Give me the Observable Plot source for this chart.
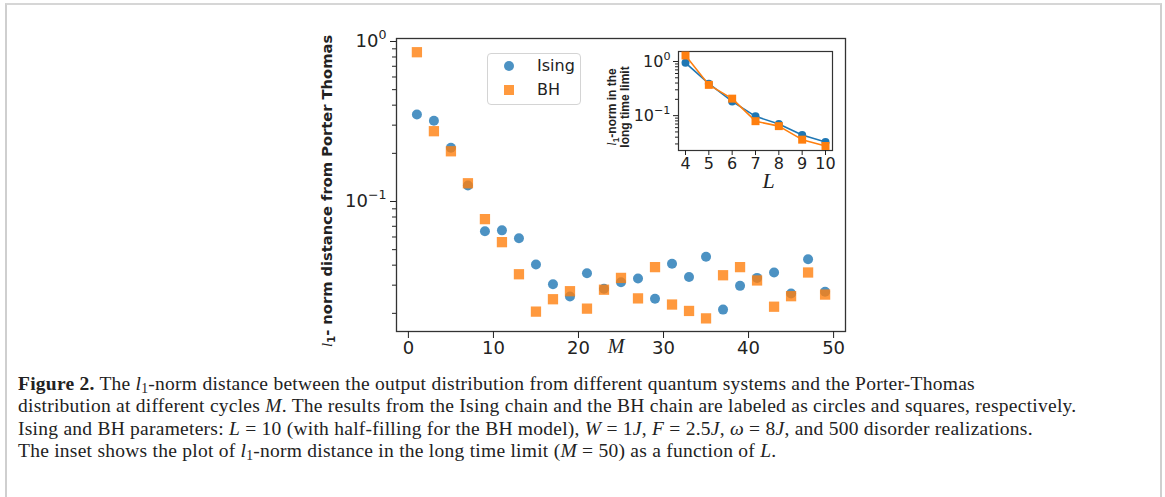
<!DOCTYPE html>
<html>
<head>
<meta charset="utf-8">
<script src="https://cdn.jsdelivr.net/npm/d3@7"></script>
<script src="https://cdn.jsdelivr.net/npm/@observablehq/plot@0.6"></script>
<style>
  html, body { margin: 0; padding: 0; background: #fff; }
  body { width: 1165px; height: 497px; position: relative; overflow: hidden; }
  #border { position: absolute; left: 5px; top: 3px; width: 1153px; height: 600px;
            border-left: 2px solid #cfcfcf; border-top: 2px solid #d6d6d6; border-right: 2px solid #cfcfcf; }
  #main { position: absolute; left: 300px; top: 20px; }
  #inset { position: absolute; left: 590px; top: 40px; }
  #legend { position: absolute; left: 487px; top: 53px; width: 92px; height: 50px;
            border: 1px solid #d4d4d4; border-radius: 4px; background: rgba(255,255,255,0.85);
            font-family: "DejaVu Sans", sans-serif; font-size: 16px; color: #222; }
  .lrow { position: absolute; left: 0; height: 20px; line-height: 20px; }
  .lrow span.mk { position: absolute; }
  .lrow span.tx { position: absolute; left: 49px; white-space: nowrap; }
  #caption { position: absolute; left: 18px; top: 373px; font-family: "Liberation Serif", "Times New Roman", serif;
             font-size: 19.5px; letter-spacing: 0.25px; line-height: 22.3px; color: #222; white-space: nowrap; }
  #caption i { font-style: italic; }
  #caption sub { font-size: 0.7em; line-height: 0; vertical-align: -0.25em; }
</style>
</head>
<body>
<div id="border"></div>
<div id="main"></div>
<div id="inset"></div>
<div id="legend">
  <div class="lrow" style="top:2px;"><span class="mk" style="left:16px;top:5px;width:10px;height:10px;border-radius:50%;background:#1f77b4;opacity:0.8;"></span><span class="tx">Ising</span></div>
  <div class="lrow" style="top:26px;"><span class="mk" style="left:16px;top:5px;width:10px;height:10px;background:#ff7f0e;opacity:0.8;"></span><span class="tx">BH</span></div>
</div>
<div id="caption"><b>Figure 2.</b> The <i>l</i><sub>1</sub>-norm distance between the output distribution from different quantum systems and the Porter-Thomas<br>distribution at different cycles <i>M</i>. The results from the Ising chain and the BH chain are labeled as circles and squares, respectively.<br>Ising and BH parameters: <i>L</i> = 10 (with half-filling for the BH model), <i>W</i> = 1<i>J</i>, <i>F</i> = 2.5<i>J</i>, <i>ω</i> = 8<i>J</i>, and 500 disorder realizations.<br>The inset shows the plot of <i>l</i><sub>1</sub>-norm distance in the long time limit (<i>M</i> = 50) as a function of <i>L</i>.</div>
<script>
// ---------- data ----------
const cycles = [1,3,5,7,9,11,13,15,17,19,21,23,25,27,29,31,33,35,37,39,41,43,45,47,49];
const isingM = [0.35,0.32,0.217,0.126,0.0652,0.066,0.059,0.0404,0.0304,0.0255,0.0356,0.0285,0.0313,0.033,0.0247,0.0408,0.0337,0.0451,0.0211,0.0297,0.0333,0.036,0.0266,0.0436,0.0273];
const bhM    = [0.857,0.275,0.206,0.130,0.0776,0.0557,0.0351,0.0205,0.0245,0.0275,0.0214,0.0281,0.0333,0.0248,0.0389,0.0227,0.0207,0.0186,0.0346,0.0389,0.0321,0.022,0.0256,0.036,0.0262];
const sizes  = [4,5,6,7,8,9,10];
const isingL = [0.946,0.389,0.183,0.097,0.070,0.044,0.0327];
const bhL    = [1.29,0.37,0.206,0.079,0.064,0.036,0.0275];
const xTicksMain = [0,10,20,30,40,50];
const yMajor = [1, 0.1];
const yMajorExp = ["0", "−1"];
const yMinor = [0.02,0.03,0.04,0.05,0.06,0.07,0.08,0.09,0.2,0.3,0.4,0.5,0.6,0.7,0.8,0.9];
const yMinorInset = [0.03,0.04,0.05,0.06,0.07,0.08,0.09,0.2,0.3,0.4,0.5,0.6,0.7,0.8,0.9];
const blue = "#1f77b4", orange = "#ff7f0e";

const isingRows = cycles.map((m, i) => ({M: m, v: isingM[i]}));
const bhRows = cycles.map((m, i) => ({M: m, v: bhM[i]}));
const isingLRows = sizes.map((l, i) => ({L: l, v: isingL[i]}));
const bhLRows = sizes.map((l, i) => ({L: l, v: bhL[i]}));

function richify(svg, cls, parts) {
  d3.select(svg).selectAll("." + cls + " text").each(function() {
    const t = d3.select(this);
    t.text(null);
    parts.forEach(p => {
      const s = t.append("tspan").text(p.t);
      if (p.italic) s.attr("font-style", "italic").attr("font-family", "Liberation Serif, serif").attr("font-weight", "normal");
      if (p.sub) s.attr("font-size", "0.7em").attr("dy", "0.3em");
      if (p.unsub) s.attr("dy", "-0.21em");
    });
  });
}
// turn "10^e" tick labels into 10 with a superscript exponent
function superscripts(svg) {
  d3.select(svg).selectAll("text").each(function() {
    const t = d3.select(this);
    const s = t.text();
    if (s.startsWith("10^")) {
      t.text(null);
      t.append("tspan").text("10");
      t.append("tspan").attr("font-size", "0.7em").attr("dy", "-0.62em").text(s.slice(3));
    }
  });
}
const supFmt = d => "10^" + yMajorExp[yMajor.indexOf(d)];

// ---------- main chart ----------
const main = Plot.plot({
  width: 560, height: 360,
  marginLeft: 96, marginTop: 18, marginRight: 15, marginBottom: 49,
  style: {fontFamily: "DejaVu Sans, sans-serif", fontSize: "18px", background: "transparent", color: "#222", overflow: "visible"},
  x: {domain: [-1.4, 51.4]},
  y: {type: "log", domain: [0.0154, 1.044]},
  marks: [
    Plot.frame({stroke: "#333", strokeWidth: 1.3}),
    Plot.axisX({ticks: xTicksMain, tickSize: 7, tickPadding: 3, tickFormat: d => String(d), label: null}),
    Plot.axisY({ticks: yMajor, tickSize: 6, tickPadding: 4, tickFormat: supFmt, label: null}),
    Plot.axisY({ticks: yMinor, tickSize: 4, tickFormat: () => "", label: null}),
    Plot.dot(isingRows, {x: "M", y: "v", r: 5, fill: blue, fillOpacity: 0.8, symbol: "circle"}),
    Plot.dot(bhRows, {x: "M", y: "v", r: 5.8, fill: orange, fillOpacity: 0.8, symbol: "square"}),
    Plot.text(["M"], {frameAnchor: "bottom", dx: -5, dy: 21, fontSize: 20, fontStyle: "italic", fontFamily: "Liberation Serif, serif"}),
    Plot.text(["ylabel"], {frameAnchor: "left", textAnchor: "middle", dx: -69, dy: 6, rotate: -90, fontSize: 14.7, fontWeight: "bold", fontFamily: "DejaVu Sans, sans-serif", className: "ylab"})
  ]
});
document.getElementById("main").appendChild(main);
superscripts(main);
richify(main, "ylab", [{t: "l", italic: true}, {t: "1", sub: true}, {t: "- norm distance from Porter Thomas", unsub: true}]);

// ---------- inset ----------
const inset = Plot.plot({
  width: 260, height: 160,
  marginLeft: 88, marginTop: 11, marginRight: 18, marginBottom: 50,
  style: {fontFamily: "DejaVu Sans, sans-serif", fontSize: "16px", background: "transparent", color: "#222", overflow: "visible"},
  x: {domain: [3.7, 10.3]},
  y: {type: "log", domain: [0.0227, 1.53]},
  marks: [
    Plot.frame({stroke: "#333", strokeWidth: 1.2}),
    Plot.axisX({ticks: sizes, tickSize: 5, tickPadding: 2, tickFormat: d => String(d), label: null}),
    Plot.axisY({ticks: yMajor, tickSize: 5, tickPadding: 3, tickFormat: supFmt, label: null}),
    Plot.axisY({ticks: yMinorInset, tickSize: 3, tickFormat: () => "", label: null}),
    Plot.line(isingLRows, {x: "L", y: "v", stroke: blue, strokeWidth: 1.6}),
    Plot.dot(isingLRows, {x: "L", y: "v", r: 4, fill: blue, symbol: "circle"}),
    Plot.line(bhLRows, {x: "L", y: "v", stroke: orange, strokeWidth: 1.6}),
    Plot.dot(bhLRows, {x: "L", y: "v", r: 4.5, fill: orange, symbol: "square"}),
    Plot.text(["L"], {frameAnchor: "bottom", dx: 13, dy: 37, fontSize: 22, fontStyle: "italic", fontFamily: "Liberation Serif, serif"}),
    Plot.text(["a"], {frameAnchor: "left", textAnchor: "middle", dx: -66, dy: 6, rotate: -90, fontSize: 12, fontWeight: "bold", fontFamily: "Liberation Sans, Arial, sans-serif", className: "il1"}),
    Plot.text(["long time limit"], {frameAnchor: "left", textAnchor: "middle", dx: -53, dy: 6, rotate: -90, fontSize: 12, fontWeight: "bold", fontFamily: "Liberation Sans, Arial, sans-serif"})
  ]
});
document.getElementById("inset").appendChild(inset);
superscripts(inset);
richify(inset, "il1", [{t: "l", italic: true}, {t: "1", sub: true}, {t: "-norm in the", unsub: true}]);
</script>
</body>
</html>
